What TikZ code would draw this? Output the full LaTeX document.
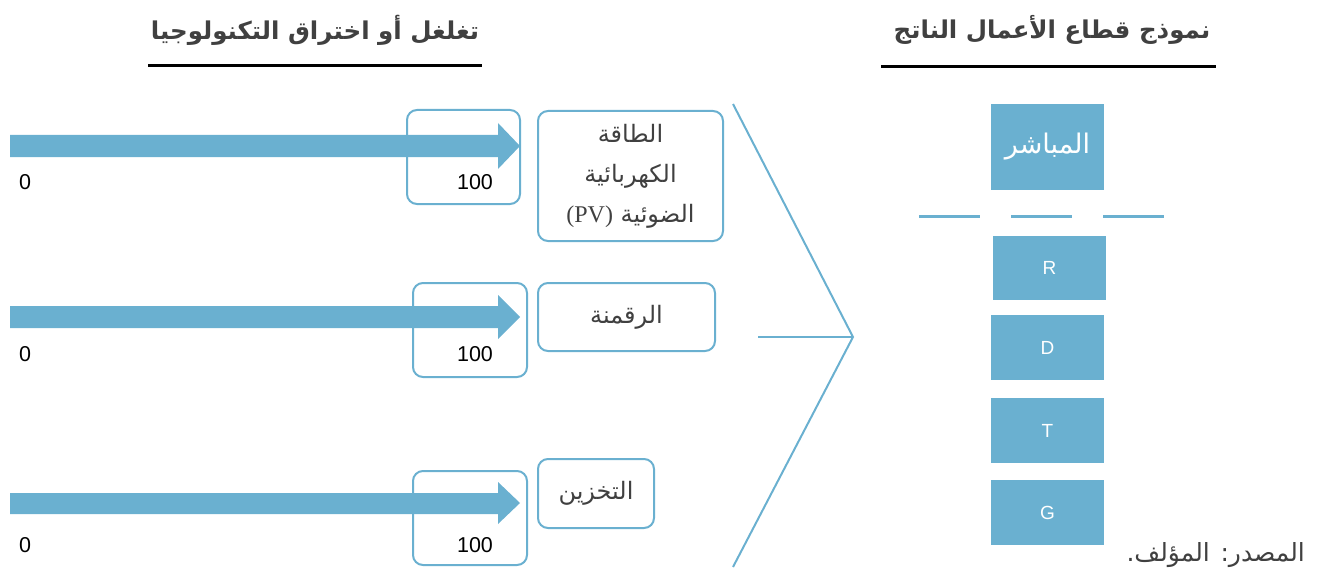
\documentclass[tikz,border=0pt]{standalone}
\usepackage{fontspec}
\setmainfont{Liberation Sans}
\newfontfamily\arabicfont[Script=Arabic]{DejaVu Sans}
\newfontfamily\serifpv{Liberation Serif}
\TeXXeTstate=1
\definecolor{myblue}{RGB}{106,176,208}
\definecolor{txtgray}{RGB}{64,64,64}
\begin{document}
\begin{tikzpicture}[x=1pt,y=-1pt,
  rbox/.style={draw=myblue,line width=2pt,rounded corners=10pt,inner sep=0pt,
    text=txtgray,font=\arabicfont\fontsize{24}{40}\selectfont,align=center},
  fbox/.style={fill=myblue,inner sep=0pt,minimum width=113pt,text=white,
    font=\fontsize{19}{22}\selectfont},
  numlbl/.style={inner sep=0pt,font=\fontsize{21.5}{24}\selectfont,text=black},
  title/.style={inner sep=0pt,text=txtgray,font=\arabicfont\bfseries\fontsize{24.5}{28}\selectfont},
  uline/.style={line width=3pt,black},
  bluel/.style={draw=myblue,line width=2pt},
  bigarrow/.style={fill=myblue}
]
\useasboundingbox (0,0) rectangle (1322,575);

% titles
\node[title] (t1) at (315,30) {\beginR تغلغل أو اختراق التكنولوجيا\endR};
\coordinate (u1a) at (148,66); \coordinate (u1b) at (482,66);
\draw[uline] (u1a) -- (u1b);
\node[title] (t2) at (1052,30) {\beginR نموذج قطاع الأعمال الناتج\endR};
\coordinate (u2a) at (881,67); \coordinate (u2b) at (1216,67);
\draw[uline] (u2a) -- (u2b);

% arrows
\fill[bigarrow] (10,135) -- (498,135) -- (498,123) -- (520,146) -- (498,169) -- (498,157) -- (10,157) -- cycle;
\fill[bigarrow] (10,306) -- (498,306) -- (498,295) -- (520,317) -- (498,339) -- (498,328) -- (10,328) -- cycle;
\fill[bigarrow] (10,493) -- (498,493) -- (498,482) -- (520,503) -- (498,524) -- (498,514) -- (10,514) -- cycle;

% tip boxes
\node[rbox,minimum width=113pt,minimum height=94pt] (b1) at (463.5,157) {};
\node[rbox,minimum width=114pt,minimum height=94pt] (b2) at (470,330) {};
\node[rbox,minimum width=114pt,minimum height=94pt] (b3) at (470,518) {};

% numbers
\node[numlbl] (z1) at (25,182) {0};
\node[numlbl] (h1) at (475,182) {100};
\node[numlbl] (z2) at (25,354) {0};
\node[numlbl] (h2) at (475,354) {100};
\node[numlbl] (z3) at (25,545) {0};
\node[numlbl] (h3) at (475,545) {100};

% label boxes
\node[rbox,minimum width=185pt,minimum height=130pt] (l1) at (630.5,176)
  {\beginR الطاقة\endR\\\beginR الكهربائية\endR\\\beginR الضوئية {\beginL\serifpv(PV)\endL}\endR};
\node[rbox,minimum width=177pt,minimum height=68pt] (l2) at (626.5,317) {\beginR الرقمنة\endR};
\node[rbox,minimum width=116pt,minimum height=69pt] (l3) at (596,493.5) {\beginR التخزين\endR};

% chevron
\coordinate (ct) at (733,104);
\coordinate (cm) at (853,337);
\coordinate (cb) at (733,567);
\coordinate (ch) at (758,337);
\draw[bluel] (ct) -- (cm) -- (cb);
\draw[bluel] (ch) -- (cm);

% right column
\node[fbox,minimum height=86pt,font=\arabicfont\fontsize{27}{30}\selectfont] (m) at (1047.5,147) {\beginR المباشر\endR};
\coordinate (d1a) at (919,216); \coordinate (d1b) at (980,216);
\coordinate (d2a) at (1011,216); \coordinate (d2b) at (1072,216);
\coordinate (d3a) at (1103,216); \coordinate (d3b) at (1164,216);
\draw[myblue,line width=3pt] (d1a) -- (d1b) (d2a) -- (d2b) (d3a) -- (d3b);
\node[fbox,minimum height=64pt] (R) at (1049.5,268) {R};
\node[fbox,minimum height=65pt] (D) at (1047.5,347.5) {D};
\node[fbox,minimum height=65pt] (T) at (1047.5,430.5) {T};
\node[fbox,minimum height=65pt] (G) at (1047.5,512.5) {G};

% source
\node[inner sep=0pt,anchor=east,text=txtgray,font=\arabicfont\fontsize{25}{28}\selectfont] (src) at (1305,555) {\beginR المصدر: المؤلف.\endR};
\end{tikzpicture}
\end{document}
